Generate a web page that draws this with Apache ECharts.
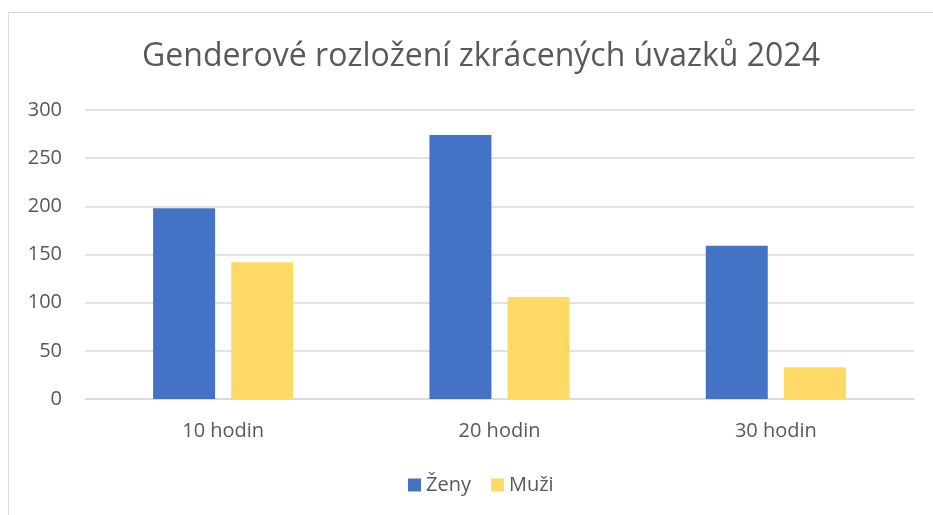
<!DOCTYPE html>
<html>
<head>
<meta charset="utf-8">
<script src="https://cdn.jsdelivr.net/npm/echarts@6/dist/echarts.min.js"></script>
<style>
  html, body { margin: 0; padding: 0; background: #fff; }
  #chart { width: 933px; height: 515px; }
</style>
</head>
<body>
<div id="chart"></div>
<script>
const categories = ['10 hodin', '20 hodin', '30 hodin']
const zeny = [198, 274, 159]
const muzi = [142, 106, 33]

const textColor = '#595959'
const font = '"Open Sans", "DejaVu Sans", sans-serif'

const chart = echarts.init(document.getElementById('chart'), undefined, { renderer: 'canvas' })

chart.setOption({
  backgroundColor: '#fff',
  animation: false,
  graphic: [{
    type: 'rect',
    shape: { x: 8.5, y: 12.5, width: 1000, height: 1000 },
    style: { fill: 'none', stroke: '#d9d9d9', lineWidth: 1 },
    silent: true
  }],
  title: {
    text: 'Genderové rozložení zkrácených úvazků 2024',
    left: 476,
    textAlign: 'center',
    top: 36,
    textStyle: { color: textColor, fontFamily: font, fontSize: 32, fontWeight: 'normal' }
  },
  legend: {
    top: 470,
    left: 403,
    itemWidth: 13,
    itemHeight: 13,
    itemGap: 20,
    icon: 'rect',
    textStyle: { color: textColor, fontFamily: font, fontSize: 20 },
    data: ['Ženy', 'Muži']
  },
  grid: { left: 85, right: 19, top: 110, bottom: 116, containLabel: false },
  xAxis: {
    type: 'category',
    data: categories,
    axisLine: { lineStyle: { color: '#d9d9d9', width: 1.5 } },
    axisTick: { show: false },
    axisLabel: { color: textColor, fontFamily: font, fontSize: 20, margin: 22 }
  },
  yAxis: {
    type: 'value',
    min: 0,
    max: 300,
    interval: 50,
    axisLine: { show: false },
    axisTick: { show: false },
    axisLabel: { color: textColor, fontFamily: font, fontSize: 20, margin: 23 },
    splitLine: { lineStyle: { color: '#d9d9d9', width: 1.5 } }
  },
  series: [
    {
      name: 'Ženy',
      type: 'bar',
      data: zeny,
      barWidth: 62,
      barGap: '26%',
      itemStyle: { color: '#4472c4' }
    },
    {
      name: 'Muži',
      type: 'bar',
      data: muzi,
      barWidth: 62,
      itemStyle: { color: '#ffd966' }
    }
  ]
})
</script>
</body>
</html>
